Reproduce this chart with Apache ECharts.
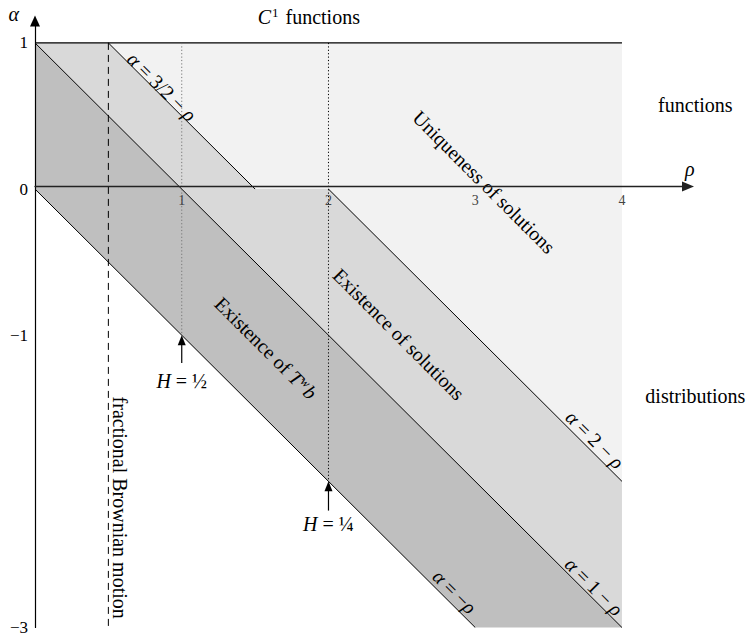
<!DOCTYPE html>
<html>
<head>
<meta charset="utf-8">
<script src="https://cdn.jsdelivr.net/npm/echarts@6/dist/echarts.min.js"></script>
<style>html,body{margin:0;padding:0;background:#fff;}#chart{width:747px;height:636px;}</style>
</head>
<body>
<div id="chart"></div>
<script>
// ---- data ----
const xTickValues = [1, 2, 3, 4];
const xTickLabels = ['1', '2', '3', '4'];
const yTickValues = [1, 0, -1, -3];
const yTickLabels = ['1', '0', '−1', '−3'];

// shaded regions (vertices in (rho, alpha))
const regionUniqueness = [[0.5, 1], [4, 1], [4, -2], [2, 0], [1.5, 0]];
const regionExistence = [[0, 1], [0.5, 1], [1.5, 0], [2, 0], [4, -2], [4, -3]];
const regionTwb = [[0, 1], [4, -3], [3, -3], [0, 0]];

// boundary lines
const lineTop = [[0, 1], [4, 1]];
const lineThreeHalves = [[0.5, 1], [1.5, 0]];
const lineTwo = [[2, 0], [4, -2]];
const lineOne = [[0, 1], [4, -3]];
const lineZero = [[0, 0], [3, -3]];
const lineFbm = [[0.5, 1], [0.5, -3]];
const lineDotH12 = [[1, 1], [1, -1]];
const lineDotH14 = [[2, 1], [2, -2]];

// H arrows: [rho, alpha tip, alpha tail]
const hArrows = [[1, -1, -1.19], [2, -2, -2.2]];

// label texts and anchors (data coords)
const diagLabels = ['{i|α} = 3/2 − {i|ρ}', 'Uniqueness of solutions', 'Existence of solutions', 'Existence of {i|T}{s|w}{i|b}', '{i|α} = 2 − {i|ρ}', '{i|α} = 1 − {i|ρ}', '{i|α} = −{i|ρ}'];
const diagAnchors = [[0.865, 0.70], [3.06, 0.048], [2.48, -0.993], [1.574, -1.088], [3.816, -1.714], [3.81, -2.72], [2.86, -2.755]];
const flatLabels = ['{i|C}{u|1} functions', 'functions', 'distributions', '{i|H} = ½', '{i|H} = ¼'];
const flatAnchors = [[1.866, 1.18], [4.50, 0.578], [4.50, -1.415], [1.0, -1.31], [2.0, -2.29]];
const vertLabels = ['fractional Brownian motion'];
const vertAnchors = [[0.579, -2.18]];

// ---- chart ----
const FONT = 'Liberation Serif';
const rich = {
  i: { fontFamily: FONT, fontStyle: 'italic', fontSize: 20, fill: '#000' },
  s: { fontFamily: FONT, fontStyle: 'italic', fontSize: 13, verticalAlign: 'top', padding: [0, 1, 8, 0], fill: '#000' },
  u: { fontFamily: FONT, fontSize: 13, verticalAlign: 'top', padding: [0, 2, 8, 1], fill: '#000' }
};

const chart = echarts.init(document.getElementById('chart'), null, { renderer: 'svg' });

function lineSeries(data, style, z) {
  return { type: 'line', data: data, symbol: 'none', silent: true, animation: false, z: z || 3, lineStyle: style };
}

const regions = [regionUniqueness, regionExistence, regionTwb];
const regionColors = ['#f2f2f2', '#d9d9d9', '#bfbfbf'];

function textSeries(labels, anchors, rotation) {
  return {
    type: 'custom', coordinateSystem: 'cartesian2d', silent: true, animation: false, z: 6, clip: false,
    data: anchors.map((a, i) => [a[0], a[1], i]),
    renderItem: function (params, api) {
      const i = params.dataIndex;
      const p = api.coord([anchors[i][0], anchors[i][1]]);
      return {
        type: 'text', x: p[0], y: p[1], rotation: rotation,
        style: { text: labels[i], font: '20px "' + FONT + '"', fill: '#000', align: 'center', verticalAlign: 'middle', rich: rich }
      };
    }
  };
}

const GRID_TOP = 21, GRID_BOTTOM = 5, Y_MIN = -3, Y_MAX = 1.15;
const plotH = 636 - GRID_TOP - GRID_BOTTOM;
const zeroOffset = -plotH * (0 - Y_MIN) / (Y_MAX - Y_MIN);

const option = {
  animation: false,
  grid: { left: 35, right: 59, top: GRID_TOP, bottom: GRID_BOTTOM, containLabel: false },
  xAxis: {
    type: 'value', min: 0, max: 4.45, interval: 1, z: 10,
    position: 'bottom', offset: zeroOffset,
    axisLine: { onZero: false, symbol: ['none', 'triangle'], symbolSize: [10, 12], lineStyle: { color: '#222', width: 1.3 } },
    axisTick: { show: false },
    splitLine: { show: false },
    axisLabel: {
      margin: 7, fontFamily: FONT, fontSize: 14, color: '#444',
      showMinLabel: true, showMaxLabel: true,
      formatter: function (v) { const k = xTickValues.indexOf(v); return k >= 0 ? xTickLabels[k] : ''; }
    },
    name: 'ρ', nameLocation: 'end', nameGap: -3,
    nameTextStyle: { fontFamily: FONT, fontStyle: 'italic', fontSize: 20, color: '#000', align: 'left', verticalAlign: 'bottom', padding: [0, 0, 8, 0] }
  },
  yAxis: {
    type: 'value', min: Y_MIN, max: Y_MAX, interval: 1, z: 10,
    axisLine: { onZero: false, symbol: ['none', 'triangle'], symbolSize: [10, 11], lineStyle: { color: '#000', width: 1.2 } },
    axisTick: { show: false },
    splitLine: { show: false },
    axisLabel: {
      margin: 7, fontFamily: FONT, fontSize: 17, color: '#000',
      showMinLabel: true, showMaxLabel: true,
      formatter: function (v) { const k = yTickValues.indexOf(v); return k >= 0 ? yTickLabels[k] : ''; }
    },
    name: 'α', nameLocation: 'end', nameGap: 7,
    nameTextStyle: { fontFamily: FONT, fontStyle: 'italic', fontSize: 20, color: '#000', align: 'right', verticalAlign: 'middle', padding: [0, 16, 0, 0] }
  },
  series: [
    {
      type: 'custom', coordinateSystem: 'cartesian2d', silent: true, animation: false, z: 1,
      data: regions.map((r, i) => [r[0][0], r[0][1], i]),
      renderItem: function (params, api) {
        const pts = regions[params.dataIndex].map(p => api.coord(p));
        return { type: 'polygon', shape: { points: pts }, style: { fill: regionColors[params.dataIndex], stroke: null } };
      }
    },
    lineSeries(lineTop, { color: '#000', width: 1.3 }),
    lineSeries(lineThreeHalves, { color: '#000', width: 1 }),
    lineSeries(lineTwo, { color: '#000', width: 1 }),
    lineSeries(lineOne, { color: '#000', width: 1 }),
    lineSeries(lineZero, { color: '#000', width: 1 }),
    lineSeries(lineFbm, { color: '#000', width: 1, type: [7, 5] }),
    lineSeries(lineDotH12, { color: '#777', width: 1, type: [1.2, 2.2] }),
    lineSeries(lineDotH14, { color: '#000', width: 1, type: [1.2, 2.2] }),
    {
      type: 'custom', coordinateSystem: 'cartesian2d', silent: true, animation: false, z: 5,
      data: hArrows.map(a => [a[0], a[1]]),
      renderItem: function (params, api) {
        const a = hArrows[params.dataIndex];
        const tip = api.coord([a[0], a[1]]);
        const tail = api.coord([a[0], a[2]]);
        return {
          type: 'group',
          children: [
            { type: 'line', shape: { x1: tail[0], y1: tail[1], x2: tip[0], y2: tip[1] + 8 }, style: { stroke: '#000', lineWidth: 1.2 } },
            { type: 'polygon', shape: { points: [[tip[0], tip[1]], [tip[0] - 4, tip[1] + 10], [tip[0] + 4, tip[1] + 10]] }, style: { fill: '#000' } }
          ]
        };
      }
    },
    textSeries(diagLabels, diagAnchors, -Math.PI / 4),
    textSeries(flatLabels, flatAnchors, 0),
    textSeries(vertLabels, vertAnchors, -Math.PI / 2)
  ]
};
chart.setOption(option);
</script>
</body>
</html>
